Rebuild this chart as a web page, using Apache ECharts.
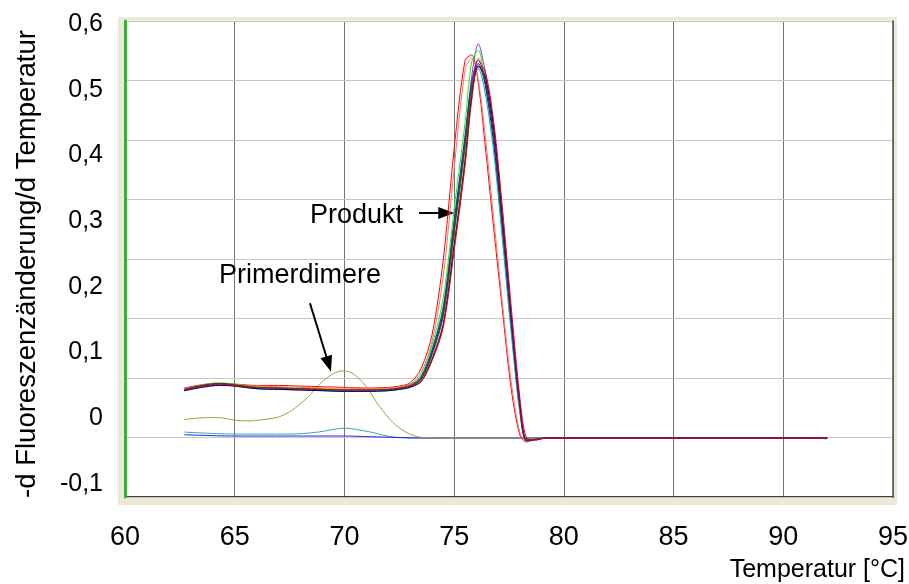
<!DOCTYPE html>
<html><head><meta charset="utf-8">
<script src="https://cdn.jsdelivr.net/npm/echarts@6/dist/echarts.min.js"></script>
<style>html,body{margin:0;padding:0;background:#fff}#c{width:909px;height:584px}</style>
</head><body><div id="c"></div>
<script>
// ---------- data ----------
const xMin = 60, xMax = 95, xStep = 5;          // x tick labels 60..95
const yMin = -0.1, yMax = 0.6, yStep = 0.1;     // y tick labels -0,1..0,6

const temps = [62.7, 63.5, 64.3, 65, 66, 67, 68, 69, 70, 71, 72, 72.5, 73, 73.5, 74, 74.5, 75, 75.5, 75.8, 76.1, 76.4, 76.8, 77.2, 77.6, 78, 78.3, 78.7, 79.2, 80, 85, 90, 92];

const sampleRedEarly = [0.046,0.051,0.053,0.052,0.050,0.050,0.049,0.048,0.047,0.046,0.047,0.049,0.054,0.076,0.128,0.240,0.410,0.545,0.553,0.510,0.420,0.290,0.165,0.045,-0.026,-0.036,-0.032,-0.030,-0.030,-0.030,-0.030,-0.030];
const samplePink     = [0.045,0.050,0.052,0.051,0.049,0.048,0.047,0.046,0.046,0.045,0.046,0.048,0.052,0.070,0.118,0.215,0.380,0.530,0.548,0.515,0.435,0.305,0.175,0.055,-0.022,-0.035,-0.032,-0.030,-0.030,-0.030,-0.030,-0.030];
const samplePurple   = [0.042,0.048,0.051,0.050,0.046,0.045,0.044,0.043,0.043,0.042,0.043,0.045,0.049,0.060,0.098,0.158,0.285,0.420,0.520,0.570,0.530,0.440,0.300,0.150,0.018,-0.033,-0.032,-0.030,-0.030,-0.030,-0.030,-0.030];
const sampleLime     = [0.044,0.051,0.054,0.052,0.048,0.047,0.046,0.045,0.044,0.044,0.045,0.047,0.051,0.066,0.112,0.182,0.318,0.450,0.542,0.560,0.512,0.418,0.282,0.138,0.010,-0.034,-0.032,-0.030,-0.030,-0.030,-0.030,-0.030];
const sampleOrange   = [0.043,0.049,0.052,0.050,0.046,0.045,0.044,0.043,0.042,0.042,0.043,0.045,0.048,0.057,0.092,0.145,0.268,0.398,0.496,0.548,0.528,0.444,0.310,0.158,0.022,-0.033,-0.032,-0.030,-0.030,-0.030,-0.030,-0.030];
const sampleBlue     = [0.043,0.049,0.052,0.050,0.046,0.045,0.044,0.043,0.042,0.042,0.043,0.045,0.049,0.061,0.100,0.160,0.290,0.420,0.505,0.540,0.510,0.420,0.285,0.140,0.012,-0.034,-0.032,-0.030,-0.030,-0.030,-0.030,-0.031];
const sampleGreen    = [0.042,0.048,0.051,0.049,0.045,0.044,0.043,0.042,0.041,0.041,0.042,0.044,0.048,0.059,0.097,0.155,0.282,0.412,0.498,0.536,0.515,0.428,0.292,0.146,0.015,-0.034,-0.032,-0.030,-0.030,-0.030,-0.030,-0.030];
const sampleTeal     = [0.043,0.049,0.052,0.050,0.046,0.045,0.044,0.043,0.042,0.042,0.043,0.045,0.049,0.063,0.106,0.170,0.302,0.430,0.510,0.532,0.498,0.406,0.272,0.130,0.007,-0.035,-0.032,-0.030,-0.030,-0.030,-0.030,-0.030];
const sampleNavy     = [0.042,0.047,0.050,0.049,0.045,0.044,0.043,0.042,0.041,0.041,0.042,0.044,0.047,0.056,0.090,0.142,0.262,0.392,0.488,0.535,0.522,0.442,0.306,0.157,0.021,-0.033,-0.033,-0.030,-0.030,-0.030,-0.030,-0.030];
const sampleViolet   = [0.044,0.050,0.053,0.051,0.047,0.046,0.045,0.044,0.043,0.043,0.044,0.046,0.050,0.063,0.104,0.166,0.298,0.430,0.512,0.545,0.518,0.430,0.296,0.150,0.016,-0.034,-0.032,-0.030,-0.030,-0.030,-0.030,-0.030];
const sampleRedLate  = [0.043,0.049,0.052,0.050,0.047,0.046,0.045,0.044,0.043,0.043,0.044,0.046,0.049,0.056,0.088,0.138,0.255,0.385,0.484,0.536,0.530,0.452,0.320,0.170,0.030,-0.030,-0.033,-0.030,-0.030,-0.030,-0.030,-0.030];

const primerTemps  = [62.7, 63.7, 64.3, 65, 65.6, 66.3, 67, 67.6, 68.3, 68.9, 69.5, 69.95, 70.4, 71, 71.6, 72.2, 72.8, 73.5, 75, 80, 85, 90, 92];
const primerValues = [-0.002,0.001,0.001,-0.003,-0.004,-0.002,0.002,0.012,0.031,0.053,0.068,0.072,0.068,0.048,0.018,-0.006,-0.021,-0.029,-0.030,-0.030,-0.030,-0.030,-0.030];

const ntcTemps = [62.7, 65, 67.5, 68.8, 70, 71.2, 72.3, 73.5, 80, 85, 90, 92];
const ntcTeal  = [-0.021,-0.024,-0.024,-0.021,-0.015,-0.021,-0.029,-0.030,-0.030,-0.030,-0.030,-0.030];
const ntcBlue  = [-0.025,-0.027,-0.027,-0.027,-0.027,-0.028,-0.029,-0.030,-0.030,-0.030,-0.030,-0.030];

const labelProdukt = 'Produkt';
const labelPrimer = 'Primerdimere';

// ---------- chart ----------
const FONT = '"Liberation Sans", Arial, sans-serif';
const samples = [sampleRedEarly, samplePink, samplePurple, sampleLime, sampleOrange, sampleBlue, sampleGreen, sampleTeal, sampleNavy, sampleViolet, sampleRedLate];
const sampleColors = ['#ff0000', '#ff7070', '#9933cc', '#00ff00', '#cc8800', '#0000ff', '#008000', '#00b0b0', '#000080', '#800080', '#e00000'];

const pairs = (xs, ys) => xs.map((x, i) => [x, ys[i]]);
const baseLine = (data, color) => ({
  type: 'line', xAxisIndex: 2, yAxisIndex: 3, data, symbol: 'none', smooth: 0.3,
  lineStyle: { width: 1, color }, itemStyle: { color }, z: 5, silent: true, animation: false
});

const series = [];
series.push(baseLine(pairs(ntcTemps, ntcTeal), '#40a8a8'));
series.push(baseLine(pairs(ntcTemps, ntcBlue), '#2020ff'));
const primer = baseLine(pairs(primerTemps, primerValues), '#a8a040');
primer.markLine = {
  silent: true, symbol: ['none', 'triangle'], symbolSize: [12, 16], animation: false,
  lineStyle: { color: '#000', width: 2, type: 'solid' }, label: { show: false },
  data: [
    [{ coord: [73.4, 0.3124] }, { coord: [74.64, 0.3124] }],
    [{ coord: [68.43, 0.175] }, { coord: [69.28, 0.0825] }]
  ]
};
primer.markPoint = {
  silent: true, symbol: 'rect', symbolSize: 1, animation: false,
  itemStyle: { color: 'rgba(0,0,0,0)' },
  label: { show: true, position: 'inside', color: '#000', fontSize: 27, fontFamily: FONT, formatter: p => p.name },
  data: [
    { name: labelProdukt, coord: [70.55, 0.308] },
    { name: labelPrimer, coord: [67.98, 0.2165] }
  ]
};
series.push(primer);
samples.forEach((s, i) => series.push(baseLine(pairs(temps, s), sampleColors[i])));

const chart = echarts.init(document.getElementById('c'), null, { renderer: 'canvas' });
chart.setOption({
  animation: false,
  backgroundColor: '#ffffff',
  textStyle: { fontFamily: FONT },
  grid: [
    { left: 118, top: 17, right: 12, bottom: 79, show: true, backgroundColor: '#ece9d8', borderWidth: 0, z: 0, outerBoundsMode: 'none', containLabel: false },
    { left: 125, top: 21, right: 16, bottom: 87, show: true, backgroundColor: '#ffffff', borderWidth: 0, z: 0, outerBoundsMode: 'none', containLabel: false },
    { left: 125, top: 24, right: 16, bottom: 100, show: false, outerBoundsMode: 'none', containLabel: false }
  ],
  xAxis: [
    { gridIndex: 0, type: 'value', min: 0, max: 1, show: false },
    { gridIndex: 1, type: 'value', min: xMin, max: xMax, interval: xStep, z: 1,
      axisLine: { show: true, onZero: false, lineStyle: { color: '#000', width: 1.5 } },
      axisTick: { show: false },
      axisLabel: { show: true, color: '#000', fontSize: 27, fontFamily: FONT, margin: 27 },
      splitLine: { show: true, lineStyle: { color: '#737373', width: 1 } },
      name: 'Temperatur [°C]', nameLocation: 'end', nameGap: 12,
      nameTextStyle: { color: '#000', fontSize: 25, fontFamily: FONT, align: 'right', verticalAlign: 'top', padding: [61, 0, 0, 0] }
    },
    { gridIndex: 2, type: 'value', min: xMin, max: xMax, show: false }
  ],
  yAxis: [
    { gridIndex: 0, type: 'value', min: 0, max: 1, show: false },
    { gridIndex: 1, type: 'value', min: 0, max: 8, interval: 1, position: 'left', z: 2,
      axisLine: { show: true, onZero: false, lineStyle: { color: '#2db82d', width: 3 } },
      axisTick: { show: false }, axisLabel: { show: false },
      splitLine: { show: true, lineStyle: { color: '#c8c8c0', width: 1 } }
    },
    { gridIndex: 1, type: 'value', min: 0, max: 8, interval: 1, position: 'right', z: 2,
      axisLine: { show: true, onZero: false, lineStyle: { color: '#555', width: 1.5 } },
      axisTick: { show: false }, axisLabel: { show: false }, splitLine: { show: false }
    },
    { gridIndex: 2, type: 'value', min: yMin, max: yMax, interval: yStep,
      axisLine: { show: false }, axisTick: { show: false }, splitLine: { show: false },
      axisLabel: { color: '#000', fontSize: 25, fontFamily: FONT, margin: 22,
        formatter: v => (Math.abs(v) < 1e-9 ? '0' : (Math.round(v * 10) / 10).toString().replace('.', ',')) },
      name: '-d Fluoreszenzänderung/d Temperatur', nameLocation: 'middle', nameGap: 84, nameRotate: 90,
      nameTextStyle: { color: '#000', fontSize: 27.5, fontFamily: FONT, padding: [0, 20, 0, 0] }
    }
  ],
  series
});
</script>
</body></html>
